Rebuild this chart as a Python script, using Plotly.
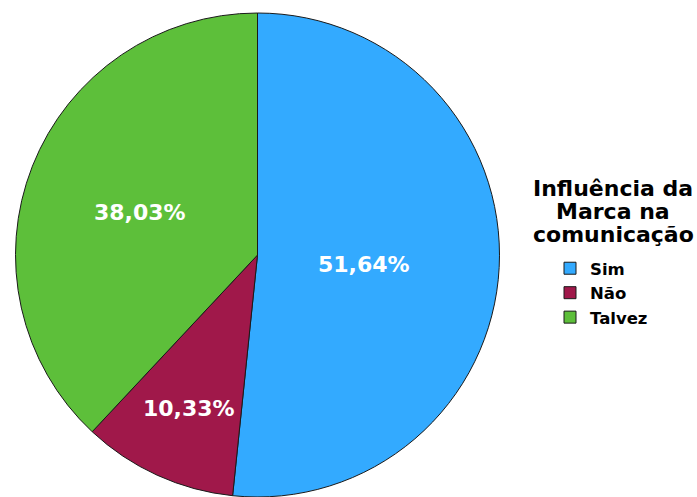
import math
import plotly.graph_objects as go

# Survey answers and their shares (%)
categories = ["Sim", "Não", "Talvez"]
shares = [51.64, 10.33, 38.03]
slice_colors = ["#33AAFF", "#A0184A", "#5DBF3A"]
legend_title_lines = ["Influência da", "Marca na", "comunicação"]
# how far out (fraction of radius) each percentage label sits
label_radius = [0.44, 0.68, 0.52]

W, H = 697, 497
# pie geometry in pixels
cx, cy, r = 257.5, 255.0, 242.0

fig = go.Figure(
    go.Pie(
        labels=categories,
        values=shares,
        sort=False,
        direction="clockwise",
        rotation=0,
        marker=dict(colors=slice_colors, line=dict(color="#1a1a1a", width=1)),
        textinfo="none",
        hoverinfo="label+value",
        domain=dict(x=[(cx - r) / W, (cx + r) / W], y=[1 - (cy + r) / H, 1 - (cy - r) / H]),
    )
)

# Percentage labels placed along each slice's mid-angle
total = sum(shares)
start = 0.0
for v, frac in zip(shares, label_radius):
    mid = (start + v / 2) / total * 2 * math.pi
    start += v
    px = cx + frac * r * math.sin(mid)
    py = cy - frac * r * math.cos(mid)
    fig.add_annotation(
        text=f"{v:.2f}%".replace(".", ","),
        x=px / W,
        y=1 - py / H,
        xref="paper",
        yref="paper",
        xanchor="center",
        yanchor="middle",
        yshift=-4,
        showarrow=False,
        font=dict(family="DejaVu Sans", size=22, color="white", weight="bold"),
    )

# Legend heading, one centred line per annotation
title_y = [188, 211, 234]
for line, ypx in zip(legend_title_lines, title_y):
    fig.add_annotation(
        text=line,
        x=613 / W,
        y=1 - ypx / H,
        xref="paper",
        yref="paper",
        xanchor="center",
        yanchor="middle",
        showarrow=False,
        font=dict(family="DejaVu Sans", size=22, color="black", weight="bold"),
    )

fig.update_layout(
    width=W,
    height=H,
    margin=dict(l=0, r=0, t=0, b=0),
    paper_bgcolor="white",
    plot_bgcolor="white",
    font=dict(family="DejaVu Sans", color="black"),
    legend=dict(
        font=dict(family="DejaVu Sans", size=16.5, color="black", weight="bold"),
        x=550 / W,
        xanchor="left",
        y=1 - 251 / H,
        yanchor="top",
        bgcolor="rgba(0,0,0,0)",
        tracegroupgap=0,
    ),
)

fig.write_html("out.html")
